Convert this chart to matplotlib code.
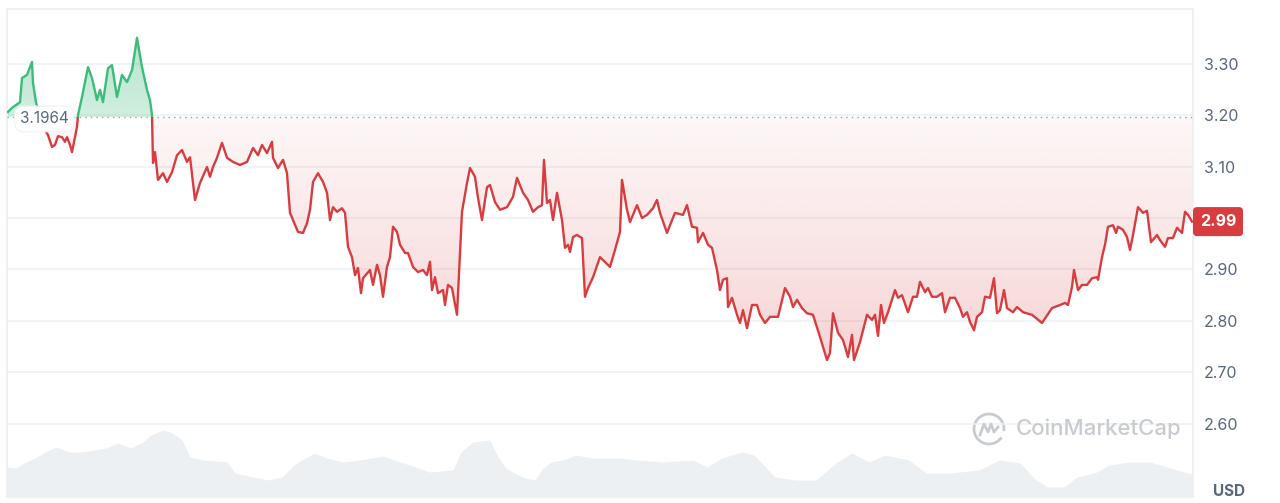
import numpy as np
import matplotlib
matplotlib.use('Agg')
import matplotlib.pyplot as plt
from matplotlib.patches import Rectangle, Arc, FancyBboxPatch
from matplotlib.path import Path
from matplotlib.transforms import IdentityTransform
from matplotlib.colors import to_rgb

plt.rcParams['font.family'] = ['Inter', 'DejaVu Sans']

# price samples (time step, USD)
t = [1, 5, 10, 13, 15, 20, 25, 26, 29, 33, 37, 41, 45, 48, 51, 55, 58, 60, 63, 65,
     68, 70, 71, 75, 81, 85, 90, 93, 96, 101, 105, 110, 115, 120, 125, 130, 135, 140, 143, 145,
     146, 148, 151, 156, 160, 165, 170, 175, 180, 183, 188, 193, 200, 203, 206, 210, 215, 220, 226, 233,
     240, 246, 251, 255, 260, 265, 266, 271, 276, 280, 283, 286, 291, 296, 300, 303, 306, 311, 316, 320,
     323, 326, 330, 335, 338, 341, 345, 348, 351, 354, 356, 363, 366, 370, 373, 376, 380, 383, 386, 390,
     393, 398, 401, 406, 411, 416, 420, 423, 425, 428, 431, 436, 438, 441, 445, 450, 455, 460, 463, 468,
     471, 475, 480, 483, 488, 493, 500, 506, 510, 516, 521, 526, 531, 535, 537, 540, 543, 546, 550, 555,
     558, 561, 563, 566, 570, 575, 578, 581, 586, 593, 603, 608, 613, 615, 620, 623, 630, 635, 640, 646,
     650, 653, 660, 663, 668, 676, 680, 685, 690, 691, 696, 701, 705, 710, 713, 716, 720, 721, 725, 730,
     733, 736, 740, 745, 750, 753, 758, 763, 771, 778, 783, 786, 790, 795, 800, 806, 813, 820, 823, 826,
     831, 836, 841, 845, 847, 853, 860, 865, 868, 871, 874, 877, 881, 888, 891, 895, 901, 906, 910, 913,
     918, 921, 925, 930, 935, 938, 943, 948, 953, 956, 960, 963, 967, 970, 975, 978, 983, 987, 990, 993,
     997, 1000, 1006, 1010, 1016, 1025, 1035, 1045, 1053, 1058, 1061, 1065, 1067, 1071, 1075, 1080, 1085, 1090, 1091, 1095,
     1098, 1101, 1106, 1109, 1111, 1116, 1120, 1123, 1126, 1131, 1136, 1140, 1144, 1150, 1153, 1158, 1161, 1166, 1170, 1175,
     1178, 1181, 1185]
price = [3.206, 3.214, 3.221, 3.225, 3.272, 3.278, 3.303, 3.262, 3.225, 3.194, 3.175, 3.161, 3.138, 3.142, 3.159, 3.157, 3.148, 3.157, 3.142, 3.128,
         3.157, 3.177, 3.200, 3.235, 3.293, 3.272, 3.229, 3.249, 3.225, 3.291, 3.297, 3.235, 3.278, 3.264, 3.287, 3.350, 3.293, 3.249, 3.229, 3.200,
         3.107, 3.128, 3.074, 3.087, 3.070, 3.089, 3.122, 3.132, 3.109, 3.118, 3.035, 3.068, 3.099, 3.080, 3.099, 3.117, 3.146, 3.117, 3.109, 3.103,
         3.109, 3.136, 3.122, 3.142, 3.126, 3.148, 3.117, 3.097, 3.113, 3.087, 3.010, 2.996, 2.973, 2.971, 2.990, 3.016, 3.070, 3.087, 3.070, 3.049,
         2.996, 3.021, 3.012, 3.019, 3.010, 2.944, 2.924, 2.889, 2.903, 2.854, 2.883, 2.899, 2.870, 2.909, 2.889, 2.847, 2.905, 2.924, 2.983, 2.973,
         2.948, 2.932, 2.932, 2.905, 2.895, 2.899, 2.889, 2.915, 2.860, 2.885, 2.854, 2.860, 2.831, 2.870, 2.864, 2.812, 3.012, 3.068, 3.097, 3.080,
         3.039, 2.996, 3.060, 3.064, 3.031, 3.016, 3.021, 3.041, 3.078, 3.049, 3.035, 3.012, 3.021, 3.025, 3.113, 3.029, 3.035, 2.996, 3.049, 2.996,
         2.942, 2.948, 2.934, 2.963, 2.967, 2.961, 2.847, 2.864, 2.885, 2.924, 2.905, 2.938, 2.973, 3.074, 3.016, 2.992, 3.025, 3.000, 3.006, 3.019,
         3.035, 3.010, 2.971, 2.986, 3.010, 3.006, 3.025, 2.983, 2.981, 2.953, 2.971, 2.948, 2.942, 2.899, 2.860, 2.880, 2.883, 2.827, 2.845, 2.812,
         2.796, 2.821, 2.786, 2.831, 2.831, 2.812, 2.796, 2.808, 2.808, 2.864, 2.847, 2.827, 2.841, 2.825, 2.815, 2.812, 2.769, 2.724, 2.738, 2.815,
         2.777, 2.763, 2.730, 2.773, 2.724, 2.759, 2.812, 2.802, 2.812, 2.771, 2.831, 2.796, 2.817, 2.860, 2.845, 2.850, 2.817, 2.847, 2.847, 2.876,
         2.856, 2.864, 2.847, 2.847, 2.854, 2.817, 2.845, 2.845, 2.825, 2.808, 2.817, 2.798, 2.782, 2.808, 2.817, 2.847, 2.845, 2.883, 2.815, 2.821,
         2.860, 2.825, 2.817, 2.827, 2.817, 2.812, 2.796, 2.825, 2.831, 2.835, 2.831, 2.866, 2.899, 2.860, 2.870, 2.870, 2.883, 2.885, 2.880, 2.924,
         2.948, 2.983, 2.986, 2.971, 2.983, 2.977, 2.963, 2.938, 2.967, 3.021, 3.010, 3.014, 2.953, 2.967, 2.957, 2.944, 2.961, 2.961, 2.981, 2.971,
         3.012, 3.006, 2.993]

# volume samples (time step, million USD)
vol_t = [0, 9, 17, 30, 42, 50, 62, 75, 87, 99, 111, 124, 136, 144, 156, 164, 175, 183, 197, 220,
         228, 246, 262, 275, 287, 307, 320, 336, 352, 377, 393, 409, 422, 446, 454, 466, 483, 491, 499, 515,
         528, 536, 544, 556, 569, 585, 597, 613, 630, 657, 686, 700, 715, 735, 747, 768, 788, 809, 829, 845,
         862, 878, 902, 919, 943, 972, 992, 1013, 1029, 1041, 1057, 1070, 1090, 1102, 1123, 1143, 1164, 1180, 1186]
vol = [60, 58, 68, 80, 94, 100, 90, 90, 94, 98, 108, 98, 110, 124, 134, 130, 114, 80, 74, 70,
       48, 40, 34, 40, 64, 88, 78, 70, 74, 82, 70, 60, 50, 54, 90, 110, 114, 80, 58, 40,
       34, 58, 70, 74, 84, 78, 78, 78, 74, 70, 74, 60, 78, 90, 84, 40, 34, 34, 68, 88,
       70, 84, 74, 48, 48, 54, 74, 68, 34, 20, 20, 40, 50, 64, 70, 70, 58, 48, 46]

open_price = 3.1964
last_label = '2.99'
yticks = [2.60, 2.70, 2.80, 2.90, 3.00, 3.10, 3.20, 3.30]

green = '#3dbb7a'
red = '#d83c3e'
grid_c = '#eff2f5'
txt_c = '#58667e'

t = np.array(t, dtype=float)
price = np.array(price)
x0, x1 = 0, 1186
y0, y1 = 2.458, 3.406

fig = plt.figure(figsize=(12.8, 5.03), dpi=100)
ax = fig.add_axes([7 / 1280, 6 / 503, 1186 / 1280, 488 / 503])
ax.set_xlim(x0, x1)
ax.set_ylim(y0, y1)

# volume area on its own scale
axv = ax.twinx()
axv.set_ylim(0, 976)
axv.fill_between(vol_t, vol, 0, color='#edf0f3', lw=0, zorder=1)
axv.axis('off')
ax.set_zorder(axv.get_zorder() + 1)
ax.patch.set_visible(False)

# grid
for yv in yticks:
    ax.axhline(yv, color=grid_c, lw=1.2, zorder=0)


# gradient fills clipped to the area between price and open
def grad_fill(mask_fn, color, a_top, a_bot, lo, hi):
    coll = ax.fill_between(t, price, open_price, where=mask_fn(price), interpolate=True,
                           facecolor='none', edgecolor='none')
    paths = coll.get_paths()
    if not paths:
        return
    clip = Path.make_compound_path(*paths)
    rgb = to_rgb(color)
    img = np.zeros((256, 1, 4))
    img[..., 0], img[..., 1], img[..., 2] = rgb
    img[..., 3] = np.linspace(a_bot, a_top, 256).reshape(-1, 1)
    im = ax.imshow(img, extent=[x0, x1, lo, hi], origin='lower', aspect='auto',
                   interpolation='bilinear', zorder=2)
    im.set_clip_path(clip, transform=ax.transData)


grad_fill(lambda p: p <= open_price, red, 0.04, 0.22, 2.72, open_price)
grad_fill(lambda p: p >= open_price, green, 0.38, 0.24, open_price, 3.35)

# line split in two colours at the open price
lg, = ax.plot(t, price, color=green, lw=1.7, zorder=4, solid_joinstyle='round')
lr, = ax.plot(t, price, color=red, lw=1.7, zorder=4, solid_joinstyle='round')
lg.set_clip_path(Rectangle((x0, open_price), x1 - x0, 1.0, transform=ax.transData))
lr.set_clip_path(Rectangle((x0, y0), x1 - x0, open_price - y0, transform=ax.transData))

ax.axhline(open_price, color='#9aa1ad', lw=1.0, ls=(0, (1, 3)), zorder=3)

ax.text(13, open_price - 0.004, f'{open_price:.4f}', fontsize=11, color=txt_c, va='center', ha='left',
        zorder=6, bbox=dict(boxstyle='round,pad=0.35,rounding_size=0.6', fc='white', ec='#f1f2f4', lw=0.8))

# axes look
for s in ax.spines.values():
    s.set_color('#eceef1')
    s.set_linewidth(1.2)
ax.set_xticks([])
ax.yaxis.tick_right()
ax.set_yticks(yticks)
ax.set_yticklabels(['' if abs(v - 3.0) < 1e-9 else f'{v:.2f}' for v in yticks])
ax.tick_params(axis='y', length=0, pad=8, labelsize=11.5, labelcolor=txt_c)

# last price tag at the right edge
px, py = ax.transData.transform((x1, price[-1]))
tag = FancyBboxPatch((px, py - 14.5), 50, 29, boxstyle='round,pad=0,rounding_size=4',
                     fc=red, ec='none', transform=IdentityTransform(), zorder=8)
fig.add_artist(tag)
fig.text(px + 25, py, last_label, transform=IdentityTransform(), fontsize=11.5,
         color='white', fontweight='bold', va='center', ha='center', zorder=9)

fig.text(1229 / 1280, 1 - 492 / 503, 'USD', fontsize=11, color=txt_c, fontweight='bold',
         ha='center', va='center')

# watermark
cx, cy = 989 / 1280, 1 - 429 / 503
fig.add_artist(Arc((cx, cy), 30 / 1280, 30 / 503, theta1=-20, theta2=300,
                   transform=fig.transFigure, color='#c8cbd1', lw=2))
mx = np.array([-9, -5, -1, 2, 5, 9]) / 1280 + cx
my = np.array([-6, 5, -3, 5, -3, 2]) / 503 + cy
fig.add_artist(plt.Line2D(mx, my, transform=fig.transFigure, color='#c8cbd1', lw=2))
fig.text(1016 / 1280, cy, 'CoinMarketCap', fontsize=16, color='#c8cbd1', fontweight='medium',
         ha='left', va='center')

fig.savefig('out.png', dpi=100)
